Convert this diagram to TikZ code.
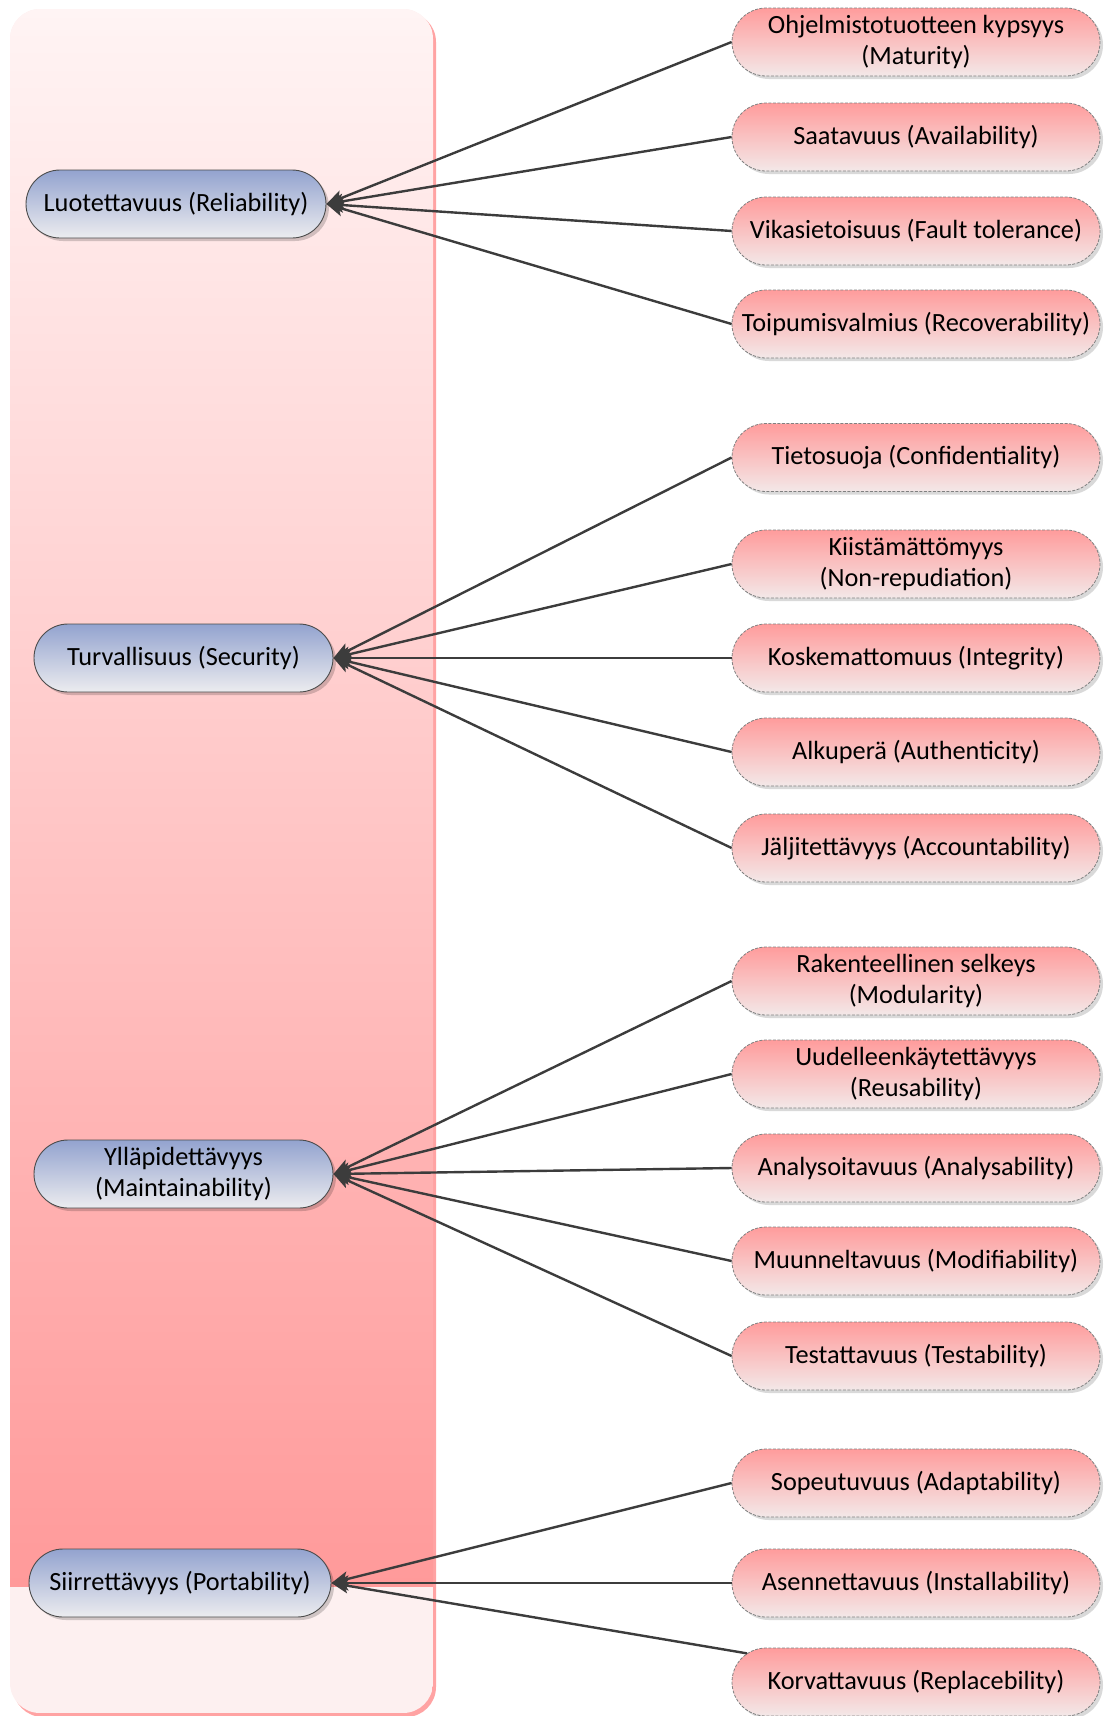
\documentclass[tikz,border=0pt]{standalone}
\usepackage{fontspec}
\setmainfont{Carlito}
\usetikzlibrary{shapes.misc,shadows,arrows.meta}

\definecolor{boxtop}{HTML}{FFF4F4}
\definecolor{boxgrad}{HTML}{FF9A9A}
\definecolor{boxlow}{HTML}{FDF0F0}
\definecolor{boxedge}{HTML}{FFA3A3}
\definecolor{bluetop}{HTML}{93A3CF}
\definecolor{bluebot}{HTML}{ECECEF}
\definecolor{redtop}{HTML}{FF9C9C}
\definecolor{redbot}{HTML}{F3E8E8}
\definecolor{wire}{HTML}{3C3C3C}

\tikzset{
  txt/.style={font=\fontsize{26.3}{30.5}\selectfont, text=black, align=center},
  mainq/.style={txt, rounded rectangle, minimum height=68pt, inner sep=0pt,
    draw=black!70, line width=0.9pt, top color=bluetop, bottom color=bluebot,
    drop shadow={shadow xshift=3pt, shadow yshift=-3pt, fill=black, opacity=0.18}},
  subq/.style={txt, rounded rectangle, minimum height=68pt, minimum width=368pt, inner sep=0pt,
    draw=black!50, line width=0.8pt, dash pattern=on 3pt off 1.5pt,
    top color=redtop, bottom color=redbot,
    drop shadow={shadow xshift=3pt, shadow yshift=-3pt, fill=black, opacity=0.15}},
  conn/.style={draw=wire, line width=2.4pt, -{Stealth[length=17pt,width=15pt,inset=4pt]}}
}

\begin{document}
\begin{tikzpicture}[x=1pt,y=-1pt]
\useasboundingbox (0,0) rectangle (1112,1716);

% container panel with its edge shadow
\fill[boxedge, rounded corners=30pt] (13,12) rectangle (436,1717);
\begin{scope}
  \clip[rounded corners=30pt] (10,9) rectangle (433,1713);
  \fill[boxlow] (10,9) rectangle (433,1713);
  \shade[top color=boxtop, bottom color=boxgrad] (10,9) rectangle (433,1586);
\end{scope}

% main characteristics
\node[mainq, minimum width=300pt] (b1) at (176,204) {Luotettavuus (Reliability)};
\node[mainq, minimum width=299pt] (b2) at (183.5,658) {Turvallisuus (Security)};
\node[mainq, minimum width=299pt] (b3) at (183.5,1174) {Ylläpidettävyys\\(Maintainability)};
\node[mainq, minimum width=302pt] (b4) at (180,1583) {Siirrettävyys (Portability)};

% sub-characteristics
\node[subq] (r1) at (916,42) {Ohjelmistotuotteen kypsyys\\(Maturity)};
\node[subq] (r2) at (916,137) {Saatavuus (Availability)};
\node[subq] (r3) at (916,231) {Vikasietoisuus (Fault tolerance)};
\node[subq] (r4) at (916,324) {Toipumisvalmius (Recoverability)};
\node[subq] (r5) at (916,457.5) {Tietosuoja (Confidentiality)};
\node[subq] (r6) at (916,564) {Kiistämättömyys\\(Non-repudiation)};
\node[subq] (r7) at (916,658) {Koskemattomuus (Integrity)};
\node[subq] (r8) at (916,752) {Alkuperä (Authenticity)};
\node[subq] (r9) at (916,848) {Jäljitettävyys (Accountability)};
\node[subq] (r10) at (916,981) {Rakenteellinen selkeys\\(Modularity)};
\node[subq] (r11) at (916,1074) {Uudelleenkäytettävyys\\(Reusability)};
\node[subq] (r12) at (916,1168) {Analysoitavuus (Analysability)};
\node[subq] (r13) at (916,1261) {Muunneltavuus (Modifiability)};
\node[subq] (r14) at (916,1356) {Testattavuus (Testability)};
\node[subq] (r15) at (916,1483) {Sopeutuvuus (Adaptability)};
\node[subq] (r16) at (916,1583) {Asennettavuus (Installability)};
\node[subq] (r17) at (916,1682) {Korvattavuus (Replacebility)};

% connectors
\foreach \r in {r1,r2,r3,r4} \draw[conn] (\r.west) -- (b1.east);
\foreach \r in {r5,r6,r7,r8,r9} \draw[conn] (\r.west) -- (b2.east);
\foreach \r in {r10,r11,r12,r13,r14} \draw[conn] (\r.west) -- (b3.east);
\foreach \r in {r15,r16} \draw[conn] (\r.west) -- (b4.east);
\draw[conn] (r17) -- (b4.east);
\end{tikzpicture}
\end{document}
